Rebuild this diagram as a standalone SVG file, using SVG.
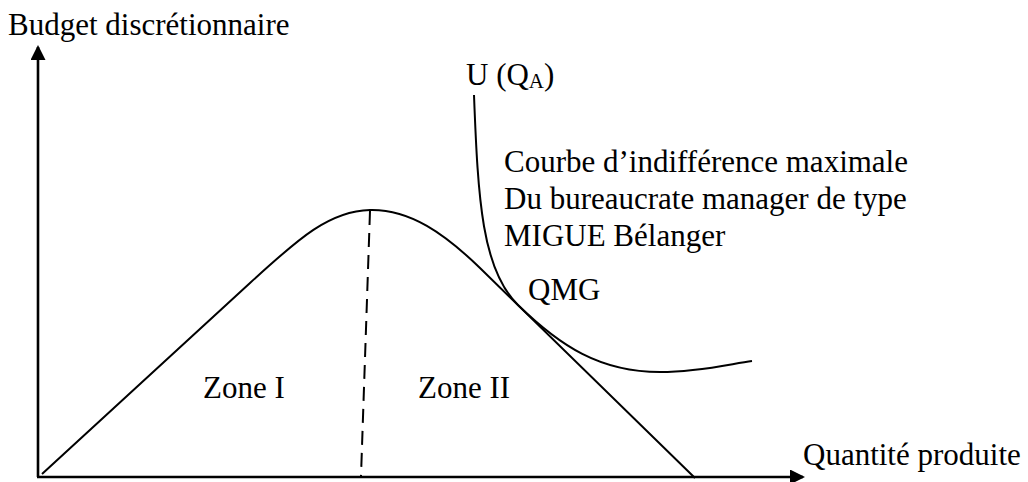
<svg xmlns="http://www.w3.org/2000/svg" width="1028" height="482" viewBox="0 0 1028 482">
<style>
text{font-family:"Liberation Serif","Times New Roman",serif;font-size:31px;fill:#000}
.ax{stroke:#000;stroke-width:2.6;fill:none}
.cv{stroke:#000;stroke-width:2;fill:none}
.dash{stroke:#000;stroke-width:2;fill:none;stroke-dasharray:14 8}
</style>
<defs>
<marker id="arr" viewBox="0 0 15 15" refX="13" refY="7.5" markerWidth="15" markerHeight="15" markerUnits="userSpaceOnUse" orient="auto">
<path d="M0,0 L15,7.5 L0,15 z" fill="#000"/>
</marker>
</defs>
<rect width="1028" height="482" fill="#fff"/>
<g id="axes">
<path class="ax" d="M38,477 L38,47" marker-end="url(#arr)"/>
<path class="ax" d="M37,477 L803,477" marker-end="url(#arr)"/>
<text x="8" y="35">Budget discrétionnaire</text>
<text x="803" y="465">Quantité produite</text>
</g>
<g id="hump">
<path class="cv" d="M42,474 L250,283 C300,237 330,211 370,210 C410,209 445,234 480,268 L695,478"/>
<path class="dash" d="M370,211 L361,476"/>
<text x="203" y="398">Zone I</text>
<text x="418" y="398">Zone II</text>
</g>
<g id="indifference">
<path class="cv" d="M474,95 C478,200 482,270 518,305 C560,346 600,372 660,372 C700,372 730,364 752,361"/>
<text x="466" y="85">U (Q<tspan font-size="21" dy="3">A</tspan><tspan dy="-3">)</tspan></text>
<text x="504" y="172">Courbe d’indifférence maximale</text>
<text x="504" y="209">Du bureaucrate manager de type</text>
<text x="504" y="246">MIGUE Bélanger</text>
<text x="528" y="300">QMG</text>
</g>
</svg>
